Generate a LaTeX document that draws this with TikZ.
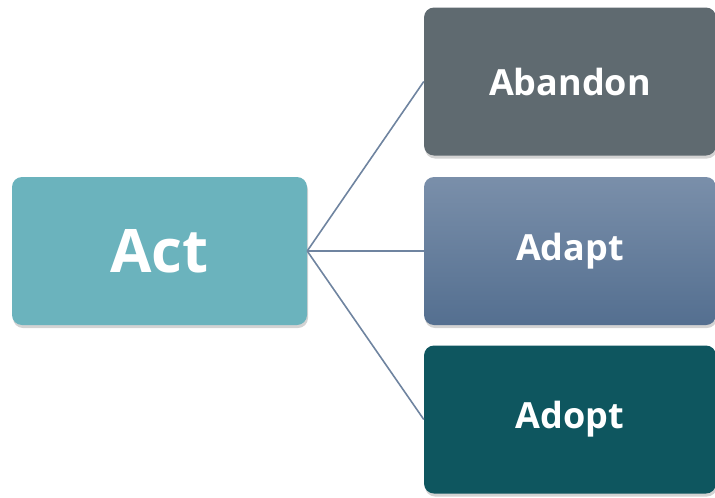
\documentclass[tikz,border=0pt]{standalone}
\usepackage{fontspec}
\setmainfont{Open Sans}
\usetikzlibrary{shadows}
\definecolor{actc}{HTML}{6BB3BD}
\definecolor{abandc}{HTML}{5F6A70}
\definecolor{adapttop}{HTML}{7A8FAA}
\definecolor{adaptbot}{HTML}{546F90}
\definecolor{adoptc}{HTML}{0E565F}
\definecolor{linkc}{HTML}{6F84A0}
\begin{document}
\begin{tikzpicture}[x=1pt,y=-1pt,
  box/.style={rectangle, rounded corners=10pt, draw=none, text=white,
    font=\bfseries\fontsize{36}{40}\selectfont,
    drop shadow={opacity=0.35, shadow xshift=1pt, shadow yshift=-3pt},
    minimum width=292pt, minimum height=148pt, inner sep=0pt},
  link/.style={draw=linkc, line width=1.6pt}]
\useasboundingbox (0,0) rectangle (715,498);
\node[box, fill=actc, minimum width=295pt, font=\bfseries\fontsize{60}{64}\selectfont] (act) at (159.5,251) {Act};
\node[box, fill=abandc] (aband) at (570,81.5) {Abandon};
\node[box, top color=adapttop, bottom color=adaptbot] (adapt) at (570,251) {Adapt};
\node[box, fill=adoptc] (adopt) at (570,419.5) {Adopt};
\draw[link] (act.east) -- (aband.west);
\draw[link] (act.east) -- (adapt.west);
\draw[link] (act.east) -- (adopt.west);
\end{tikzpicture}
\end{document}
